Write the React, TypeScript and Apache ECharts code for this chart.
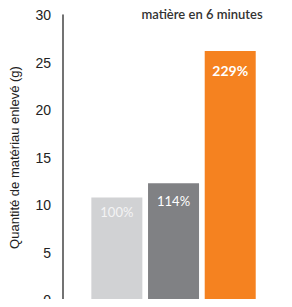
import React, { useEffect, useRef } from "react";
import * as echarts from "echarts";

const categories = [1, 2, 3];
const values = [10.8, 12.3, 26.2];
const labels = ["100%", "114%", "229%"];
const colors = ["#d1d2d4", "#808184", "#f58220"];
const yTicks = { min: 0, max: 30, interval: 5 };
const yName = "Quantité de matériau enlevé (g)";
const titleText = "matière en 6 minutes";

export default function App() {
  const ref = useRef<HTMLDivElement>(null);
  useEffect(() => {
    if (!ref.current) return;
    const chart = echarts.init(ref.current, null, { renderer: "svg" });
    chart.setOption({
      animation: false,
      title: {
        text: titleText,
        left: 197,
        textAlign: "center",
        top: 2,
        textStyle: { fontSize: 13, fontWeight: 600, color: "#333", fontFamily: "Lato" },
      },
      grid: { left: 60, right: 0, top: 15, bottom: 5, containLabel: false },
      xAxis: {
        type: "value",
        min: 0.05,
        max: 4.09,
        axisLine: { show: true, onZero: false, lineStyle: { color: "#222", width: 1.5 } },
        axisTick: { show: false },
        axisLabel: { show: false },
        splitLine: { show: false },
      },
      yAxis: {
        type: "value",
        min: yTicks.min,
        max: yTicks.max,
        interval: yTicks.interval,
        name: yName,
        nameLocation: "middle",
        nameRotate: 90,
        nameGap: 42,
        nameTextStyle: { fontSize: 13, color: "#222", fontFamily: "Liberation Sans" },
        axisLine: { show: true, lineStyle: { color: "#444", width: 1.5 } },
        axisTick: { show: false },
        splitLine: { show: false },
        axisLabel: { fontSize: 14, color: "#222", margin: 12, fontFamily: "Liberation Sans" },
      },
      series: [
        {
          type: "bar",
          barWidth: 51,
          data: categories.map((c, i) => ({
            value: [c, values[i]],
            itemStyle: { color: colors[i] },
            label: {
              show: true,
              position: "insideTop",
              distance: i === 0 ? 8 : i === 1 ? 11 : 12,
              formatter: labels[i],
              color: i === 0 ? "#f4f4f4" : "#ffffff",
              fontSize: i === 2 ? 14 : 13,
              fontWeight: i === 2 ? "bold" : "normal",
              fontFamily: "Lato",
            },
          })),
        },
      ],
    });
    return () => chart.dispose();
  }, []);
  return <div ref={ref} style={{ width: 292, height: 307, margin: -8 }} />;
}
